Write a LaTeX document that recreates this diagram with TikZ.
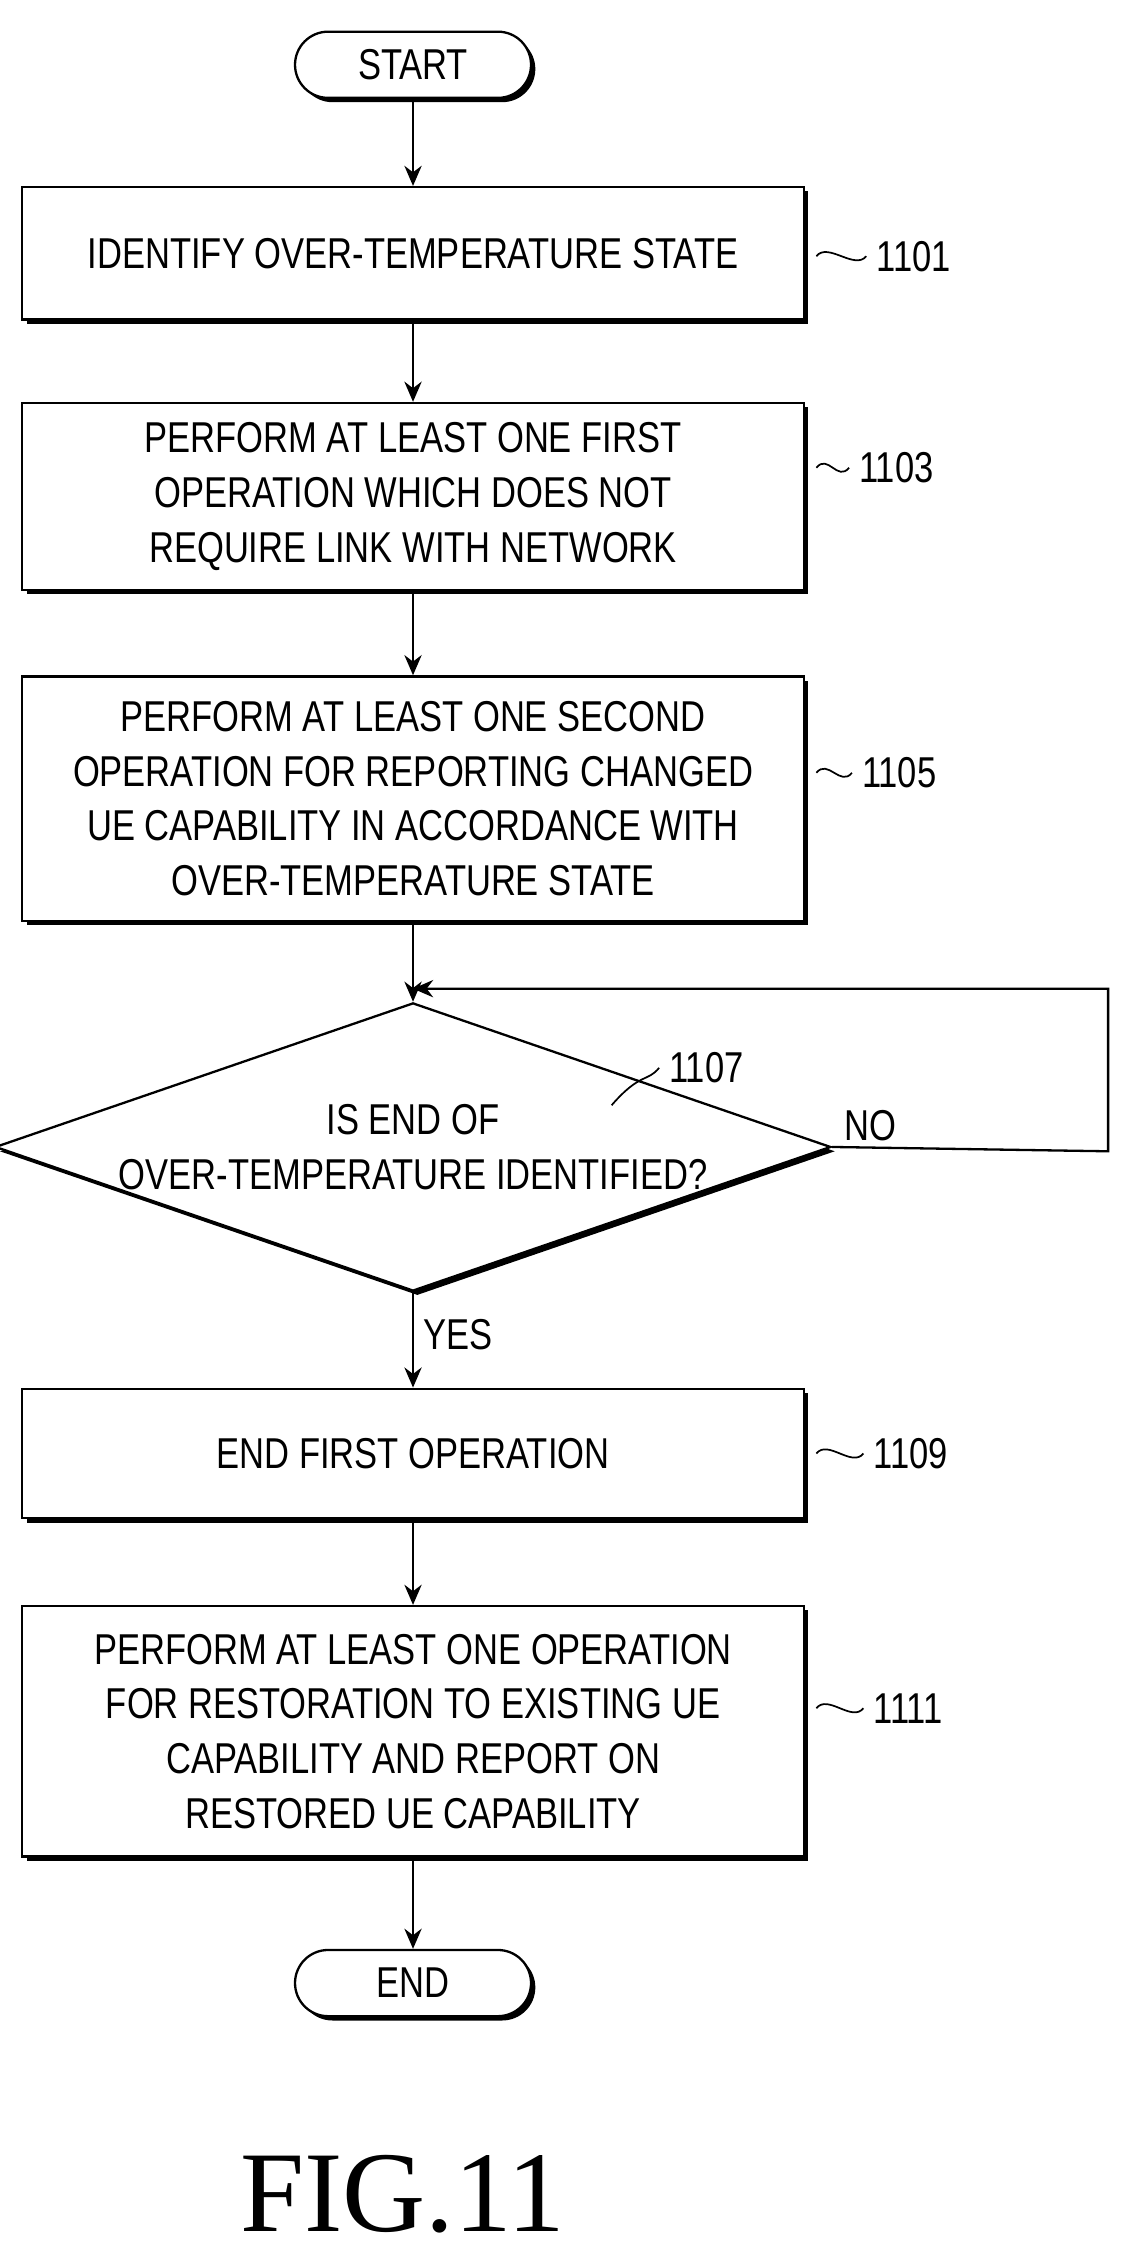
\documentclass[tikz,border=0pt]{standalone}
\usepackage{fontspec}
\setmainfont{Liberation Sans}[FakeStretch=0.8]
\newfontfamily\figfont{Liberation Serif}
\usetikzlibrary{shapes.geometric,shadows,arrows.meta}
\begin{document}
\begin{tikzpicture}[x=0.5pt,y=-0.5pt,
  sh/.style={drop shadow={shadow xshift=1.5pt,shadow yshift=-1.5pt,fill=black,opacity=1}},
  box/.style={draw,line width=0.8pt,fill=white,sh,minimum width=271.5pt,align=center,font=\fontsize{15}{19}\selectfont,inner sep=0pt},
  term/.style={draw,line width=0.8pt,fill=white,sh,rounded corners=11.5pt,minimum width=82pt,minimum height=23pt,font=\fontsize{15}{18}\selectfont},
  lab/.style={font=\fontsize{15}{18}\selectfont,anchor=west},
  arr/.style={-{Stealth[length=7pt,width=6pt]},line width=0.8pt},
  sq/.style={line width=0.6pt}]
\useasboundingbox (0,0) rectangle (790,1576);
\node[term] (start) at (287,45) {START};
\node[box,minimum height=46pt] (b1) at (287,176) {IDENTIFY OVER-TEMPERATURE STATE};
\node[box,minimum height=65pt] (b2) at (287,345) {PERFORM AT LEAST ONE FIRST\\OPERATION WHICH DOES NOT\\REQUIRE LINK WITH NETWORK};
\node[box,minimum height=85pt] (b3) at (287,555) {PERFORM AT LEAST ONE SECOND\\OPERATION FOR REPORTING CHANGED\\UE CAPABILITY IN ACCORDANCE WITH\\OVER-TEMPERATURE STATE};
\node[draw,diamond,line width=0.8pt,fill=white,sh,minimum width=271.5pt,minimum height=92pt,inner sep=0pt,aspect=2.9,align=center,font=\fontsize{15}{19}\selectfont] (d) at (287,797) {IS END OF\\OVER-TEMPERATURE IDENTIFIED?};
\node[box,minimum height=45pt] (b4) at (287,1010) {END FIRST OPERATION};
\node[box,minimum height=87pt] (b5) at (287,1203) {PERFORM AT LEAST ONE OPERATION\\FOR RESTORATION TO EXISTING UE\\CAPABILITY AND REPORT ON\\RESTORED UE CAPABILITY};
\node[term] (end) at (287,1378) {END};
\node[font=\figfont\fontsize{40}{44}\selectfont] (fig) at (280,1525) {FIG.11};
\draw[arr] (start) -- (b1);
\draw[arr] (b1) -- (b2);
\draw[arr] (b2) -- (b3);
\draw[arr] (b3) -- (d);
\draw[arr] (d) -- node[right,font=\fontsize{15}{18}\selectfont,pos=0.45] (yes) {YES} (b4);
\draw[arr] (b4) -- (b5);
\draw[arr] (b5) -- (end);
\coordinate (c1) at (770,800);
\coordinate (c2) at (770,687);
\coordinate (c3) at (287,687);
\draw[arr] (d.east) -- (c1) -- (c2) -- (c3);
\node[font=\fontsize{15}{18}\selectfont] (no) at (605,782) {NO};
\node[lab] (l1) at (602,178) {1101};
\node[lab] (l2) at (590,325) {1103};
\node[lab] (l3) at (592,537) {1105};
\node[lab] (l4) at (458,742) {1107};
\node[lab] (l5) at (600,1010) {1109};
\node[lab] (l6) at (600,1187) {1111};
\foreach \b/\l in {b1/l1,b2/l2,b3/l3,b4/l5,b5/l6}
  \draw[sq] ([xshift=4pt]\b.east |- \l.west) .. controls +(8,-10) and +(-8,10) .. (\l.west);
\draw[sq] (425,768) .. controls (445,745) and (450,752) .. (l4.west);
\end{tikzpicture}
\end{document}
